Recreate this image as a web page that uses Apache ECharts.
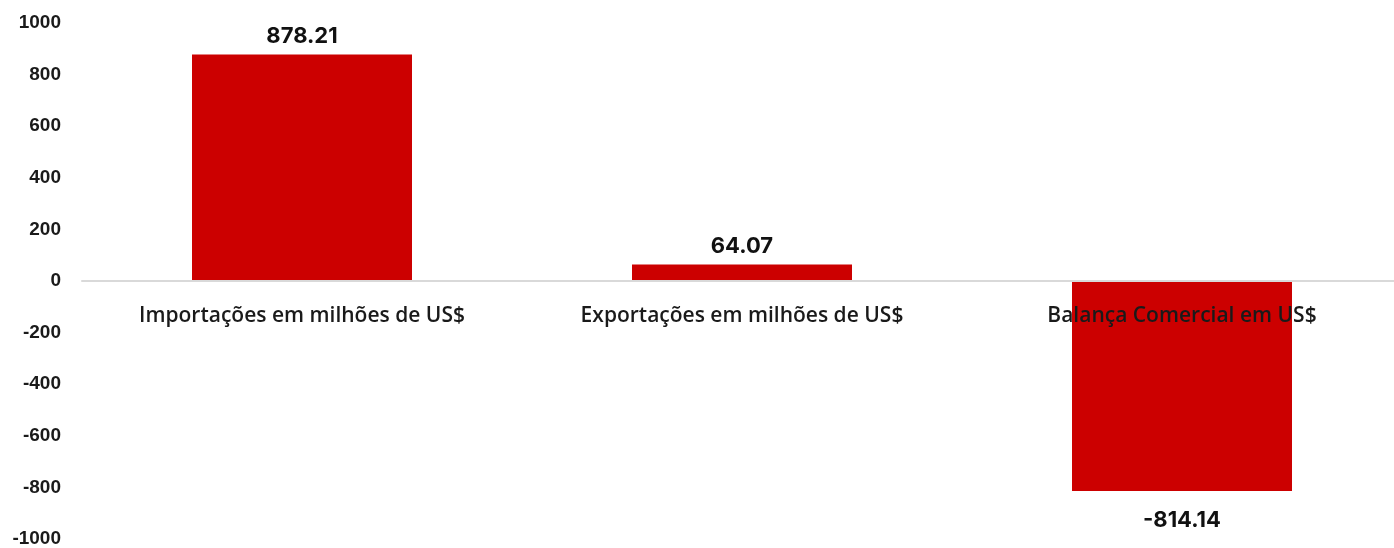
<!DOCTYPE html>
<html>
<head>
<meta charset="utf-8">
<script src="https://cdn.jsdelivr.net/npm/echarts@6/dist/echarts.min.js"></script>
<style>
  html, body { margin: 0; padding: 0; background: #fff; }
  #chart { width: 1394px; height: 548px; }
</style>
</head>
<body>
<div id="chart"></div>
<script>
// Trade figures (US$ millions)
const categories = [
  'Importações em milhões de US$',
  'Exportações em milhões de US$',
  'Balança Comercial em US$'
];
const values = [878.21, 64.07, -814.14];
const yTicks = { min: -1000, max: 1000, interval: 200 };

const chart = echarts.init(document.getElementById('chart'));

const gridTop = 23;
const gridHeight = 516;

const barData = values.map(v => ({
  value: v,
  label: {
    position: v >= 0 ? 'top' : 'bottom',
    distance: v >= 0 ? 7 : 18
  }
}));

chart.setOption({
  animation: false,
  backgroundColor: '#ffffff',
  grid: { left: 82, width: 1320, top: gridTop, height: gridHeight, outerBoundsMode: 'none', containLabel: false },
  xAxis: {
    type: 'category',
    data: categories,
    z: 5,
    // category axis sits on the zero line, labels hang just below it
    offset: -gridHeight / 2,
    axisLine: { onZero: false, lineStyle: { color: '#d9d9d9', width: 2 } },
    axisTick: { show: false },
    axisLabel: {
      margin: 25,
      color: '#1a1a1a',
      fontFamily: 'Open Sans',
      fontWeight: 600,
      fontSize: 21
    }
  },
  yAxis: {
    type: 'value',
    min: yTicks.min,
    max: yTicks.max,
    interval: yTicks.interval,
    splitLine: { show: false },
    axisLine: { show: false },
    axisTick: { show: false },
    axisLabel: {
      margin: 21,
      color: '#1a1a1a',
      fontFamily: 'Liberation Sans',
      fontWeight: 'bold',
      fontSize: 19,
      formatter: v => String(v)
    }
  },
  series: [{
    type: 'bar',
    data: barData,
    barWidth: '50%',
    itemStyle: { color: '#cc0000' },
    label: {
      show: true,
      color: '#111',
      fontFamily: 'Inter',
      fontWeight: 'bold',
      fontSize: 22,
      formatter: p => p.value.toFixed(2)
    }
  }]
});
</script>
</body>
</html>
